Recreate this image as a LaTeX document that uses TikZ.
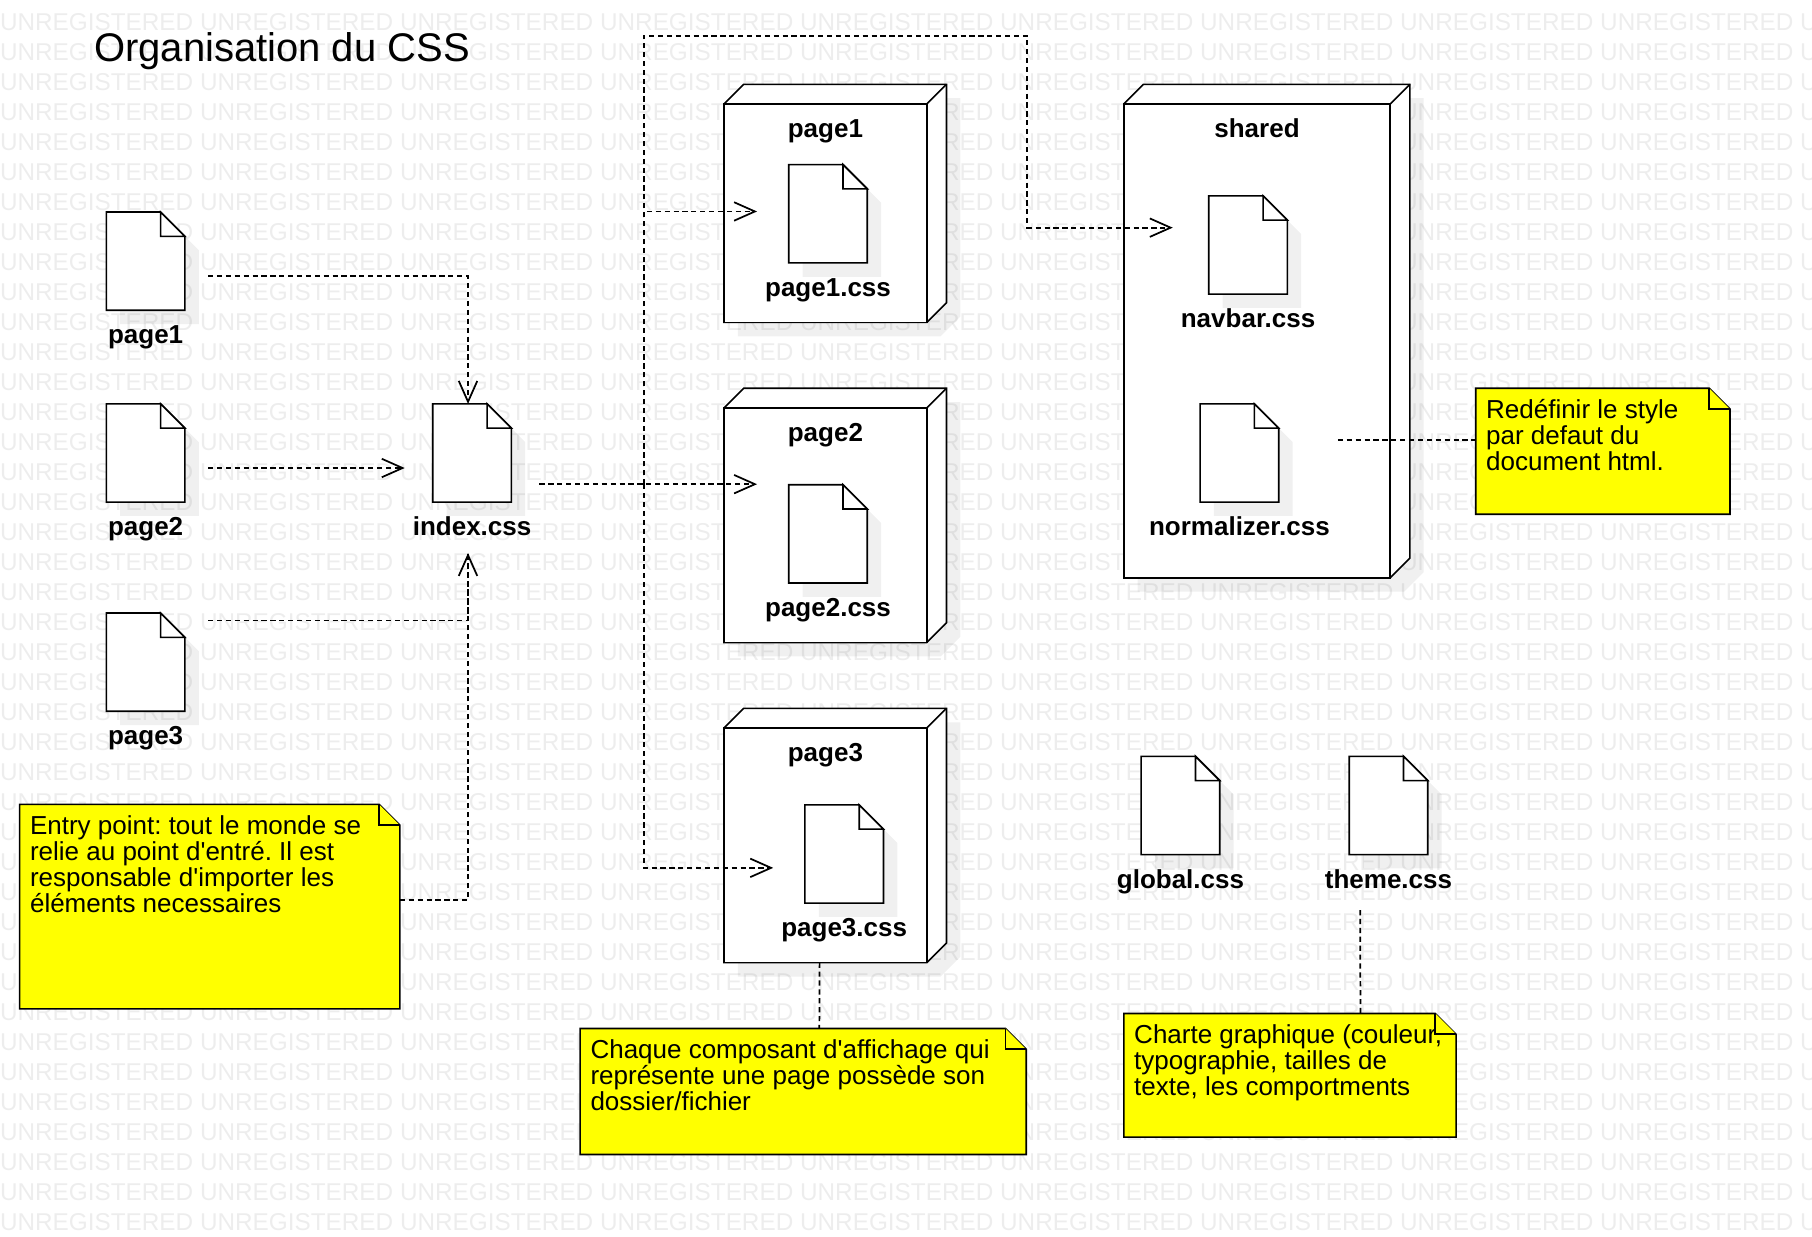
\documentclass[tikz,border=0pt]{standalone}
\usepackage{fontspec}
\setmainfont{Liberation Sans}
\usetikzlibrary{arrows.meta}

\definecolor{NoteFill}{RGB}{255,255,0}
\definecolor{WatermarkGray}{HTML}{EDEDED}

\newcommand{\notesize}{\fontsize{22.5}{22.5}\selectfont}
\newcommand{\wmword}{UNREGISTERED }
\newcommand{\wmrow}{\wmword\wmword\wmword\wmword\wmword\wmword\wmword\wmword\wmword\wmword}

\tikzset{
    holder/.style={inner sep=0pt, outer sep=0pt},
    watermark/.style={holder, anchor=base west, text=WatermarkGray, font=\fontsize{21.05}{21.05}\selectfont},
    softshadow/.style={fill=black, opacity=0.06, draw=none},
    outline/.style={draw=black, line width=1.4pt, line join=miter, fill=white},
    filename/.style={holder, anchor=base, font=\notesize\bfseries},
    notebody/.style={draw=black, line width=1.4pt, fill=NoteFill},
    notetext/.style={holder, anchor=north west, align=left, font=\notesize},
    depends/.style={line width=1.5pt, dash pattern=on 4.5pt off 3.2pt},
    depharrow/.style={depends, -{Straight Barb[length=18pt, width=16pt, line width=1.5pt]}},
}

% name, centre x, top y, label
\newcommand{\cssfile}[4]{
    \node[holder, anchor=north, minimum width=108pt, minimum height=129pt, inner xsep=7pt, font=\notesize\bfseries] (#1) at (#2,#3) {\phantom{#4}};
    \fill[softshadow, shift={(#2+12,#3+12)}] (-34,0) -- (13,0) -- (34,21) -- (34,85) -- (-34,85) -- cycle;
    \draw[outline, shift={(#2,#3)}] (-34,0) -- (13,0) -- (34,21) -- (34,85) -- (-34,85) -- cycle;
    \draw[outline, shift={(#2,#3)}] (13,0) -- (13,21) -- (34,21) -- cycle;
    \node[filename] (#1 label) at (#2,#3+114) {#4};
}

% name, left x, top y, width, height, label
\newcommand{\pkgbox}[6]{
    \node[holder, anchor=north west, minimum width=#4pt, minimum height=#5pt] (#1) at (#2,#3) {};
    \fill[softshadow, shift={(#2+12,#3+12)}] (0,0) -- (17,-17) -- (#4+17,-17) -- (#4+17,#5-17) -- (#4,#5) -- (0,#5) -- cycle;
    \draw[outline] (#1.north west) -- ++(17,-17) -- ++(#4,0) -- ++(0,#5) -- (#1.south east) -- (#1.south west) -- cycle;
    \draw[outline] (#1.north west) rectangle (#1.south east);
    \draw[line width=1.4pt] (#1.north east) -- ++(17,-17);
    \node[filename] (#1 label) at (#2+#4/2,#3+29) {#6};
}

% name, left x, top y, width, height, text
\newcommand{\notebox}[6]{
    \node[holder, anchor=north west, minimum width=#4pt, minimum height=#5pt] (#1) at (#2,#3) {};
    \draw[notebody] (#1.north west) -- ([xshift=-18pt]#1.north east) -- ([yshift=-18pt]#1.north east) -- (#1.south east) -- (#1.south west) -- cycle;
    \draw[notebody] ([xshift=-18pt]#1.north east) -- ([xshift=-18pt,yshift=-18pt]#1.north east) -- ([yshift=-18pt]#1.north east);
    \node[notetext] (#1 text) at ([xshift=9pt,yshift=-10pt]#1.north west) {#6};
}

\begin{document}
\frenchspacing
\begin{tikzpicture}[x=1pt, y=-1pt]

\useasboundingbox (0,0) rectangle (1568,1069.6);

\foreach \row in {0,...,40}
    \node[watermark] (wm\row) at (0,{26.5+25.95*\row}) {\wmrow};

\node[holder, anchor=west, font=\fontsize{34.6}{34.6}\selectfont] (title) at (81.5,44) {Organisation du CSS};

% left column and entry point
\cssfile{pagea}{126}{183.5}{page1}
\cssfile{pageb}{126}{349.5}{page2}
\cssfile{pagec}{126}{530.5}{page3}
\cssfile{index}{408.5}{349.5}{index.css}

% page packages
\pkgbox{pkga}{626.5}{90}{175.5}{189}{page1}
\cssfile{cssa}{716.5}{142.5}{page1.css}
\pkgbox{pkgb}{626.5}{353}{175.5}{203}{page2}
\cssfile{cssb}{716.5}{419.5}{page2.css}
\pkgbox{pkgc}{626.5}{630}{175.5}{203}{page3}
\cssfile{cssc}{730.5}{696.5}{page3.css}

% shared package
\pkgbox{shared}{972.5}{90}{230.5}{410}{shared}
\cssfile{navbar}{1080}{169.5}{navbar.css}
\cssfile{normalizer}{1072.5}{349.5}{normalizer.css}

\cssfile{global}{1021.5}{654.5}{global.css}
\cssfile{theme}{1201.5}{654.5}{theme.css}

% notes
\notebox{noteentry}{17}{696}{329}{177}{Entry point: tout le monde se\\relie au point d\textquotesingle entré. Il est\\responsable d\textquotesingle importer les\\éléments necessaires}
\notebox{notepage}{502}{890}{386}{109}{Chaque composant d\textquotesingle affichage qui\\représente une page possède son\\dossier/fichier}
\notebox{notestyle}{1277}{336}{220}{109}{Redéfinir le style\\par defaut du\\document html.}
\notebox{notecharte}{972.5}{877}{287.5}{107}{Charte graphique (couleur,\\typographie, tailles de\\texte, les comportments}

\coordinate (branch) at (557,419);
\coordinate (topleft) at (557,31);
\coordinate (topright) at (889,31);

\draw[depharrow] ([yshift=9pt]pagea.east) -| ([xshift=-3.5pt]index.north);
\draw[depharrow] ([yshift=9pt]pageb.east) -- ([yshift=9pt]index.west);
\draw[depharrow] ([yshift=58pt]pagec.east) -| ([xshift=-3.5pt]index.south);
\draw[depends] ([yshift=5.5pt]noteentry.east) -| ([xshift=-3.5pt]index.south);

\draw[depharrow] ([yshift=-5pt]index.east) -- (branch) -- ([yshift=65pt]cssb.west);
\draw[depharrow] (branch) |- ([yshift=24pt]cssa.west);
\draw[depharrow] (branch) |- ([yshift=10pt]cssc.west);
\draw[depharrow] (branch) -- (topleft) -- (topright) |- ([yshift=37pt]navbar.west);

\draw[depends] ([yshift=33pt]normalizer.east) -- ([yshift=9.5pt]notestyle.west);
\draw[depends] ([xshift=-5pt]pkgc.south) -- ([xshift=14pt]notepage.north);
\draw[depends] ([xshift=-24.5pt,yshift=-4pt]theme.south) -- ([xshift=61pt]notecharte.north);

\end{tikzpicture}
\end{document}
